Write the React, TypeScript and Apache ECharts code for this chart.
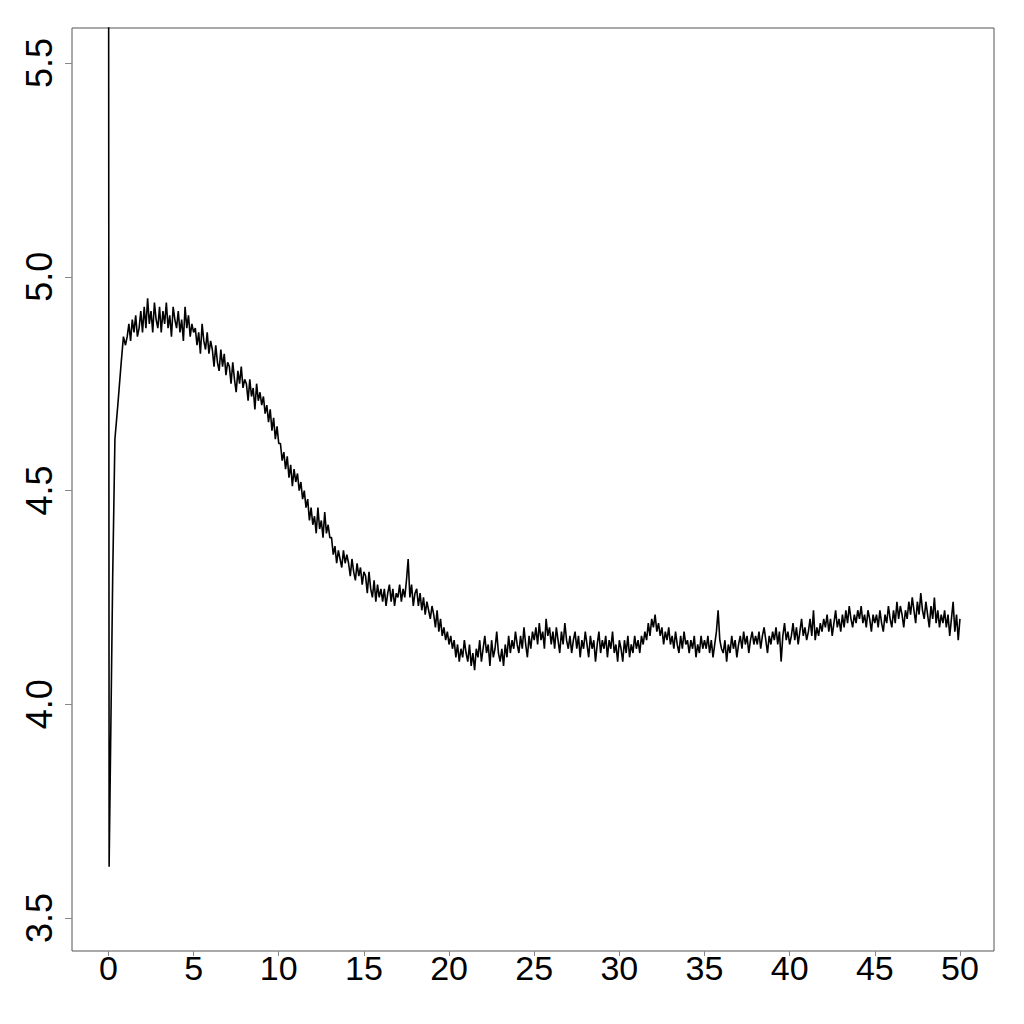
import React, { useEffect, useRef } from "react";
import * as echarts from "echarts";

// Early transient (x, y)
const startX = [0, 0.04, 0.25, 0.38, 0.55, 0.75, 0.88, 1.0];
const startY = [6.5, 3.62, 4.3, 4.62, 4.7, 4.8, 4.86, 4.84];

// Sampled values every 0.1 from x = 1.1 to 50.0
const tStart = 1.1;
const tStep = 0.1;
const seg01_05 = [
  4.86, 4.89, 4.85, 4.9, 4.87, 4.91, 4.86, 4.88, 4.92, 4.87,
  4.93, 4.88, 4.95, 4.89, 4.92, 4.87, 4.94, 4.9, 4.88, 4.93,
  4.87, 4.92, 4.89, 4.94, 4.88, 4.91, 4.86, 4.93, 4.9, 4.88,
  4.92, 4.87, 4.9, 4.85, 4.93, 4.88, 4.91, 4.86, 4.89, 4.87,
];
const seg05_10 = [
  4.88, 4.84, 4.87, 4.82, 4.89, 4.85, 4.83, 4.87, 4.82, 4.85,
  4.83, 4.79, 4.84, 4.8, 4.78, 4.83, 4.79, 4.82, 4.77, 4.8,
  4.79, 4.75, 4.8, 4.76, 4.73, 4.78, 4.75, 4.79, 4.74, 4.76,
  4.75, 4.71, 4.76, 4.72, 4.74, 4.69, 4.75, 4.71, 4.73, 4.7,
  4.72, 4.68, 4.7, 4.66, 4.69, 4.64, 4.67, 4.62, 4.65, 4.61,
];
const seg10_15 = [
  4.61, 4.57, 4.59, 4.55, 4.58, 4.53, 4.56, 4.51, 4.55, 4.52,
  4.54, 4.5, 4.52, 4.48, 4.5, 4.46, 4.48, 4.43, 4.46, 4.42,
  4.44, 4.4, 4.46, 4.41, 4.43, 4.39, 4.45, 4.4, 4.42, 4.39,
  4.39, 4.35, 4.37, 4.33, 4.36, 4.34, 4.32, 4.36, 4.33, 4.35,
  4.33, 4.3, 4.34, 4.31, 4.29, 4.33, 4.3, 4.32, 4.28, 4.31,
];
const seg15_20 = [
  4.3, 4.26, 4.31, 4.27, 4.25, 4.29, 4.24, 4.28, 4.25, 4.27,
  4.24, 4.27, 4.23, 4.26, 4.28, 4.24, 4.27, 4.23, 4.26, 4.25,
  4.28, 4.24, 4.27, 4.25, 4.29, 4.34, 4.25, 4.28, 4.23, 4.26,
  4.27, 4.23, 4.26, 4.22, 4.25, 4.21, 4.24, 4.22, 4.2, 4.23,
  4.21, 4.18, 4.22, 4.17, 4.2, 4.16, 4.18, 4.15, 4.17, 4.14,
];
const seg20_25 = [
  4.16, 4.13, 4.15, 4.11, 4.14, 4.1, 4.13, 4.11, 4.15, 4.12,
  4.1, 4.14, 4.09, 4.12, 4.08, 4.13, 4.11, 4.15, 4.1, 4.13,
  4.16, 4.12, 4.14, 4.09, 4.15, 4.11, 4.13, 4.17, 4.12, 4.1,
  4.13, 4.09, 4.14, 4.11, 4.16, 4.12, 4.15, 4.13, 4.17, 4.14,
  4.12, 4.16, 4.13, 4.18, 4.14, 4.11, 4.16, 4.13, 4.17, 4.15,
];
const seg25_30 = [
  4.18, 4.14, 4.19, 4.15, 4.17, 4.13, 4.2, 4.16, 4.18, 4.14,
  4.17, 4.13, 4.18, 4.15, 4.12, 4.17, 4.14, 4.19, 4.15, 4.13,
  4.16, 4.12, 4.15, 4.17, 4.13, 4.16, 4.11, 4.15, 4.13, 4.17,
  4.14, 4.11, 4.16, 4.13, 4.15, 4.1, 4.14, 4.17, 4.12, 4.15,
  4.13, 4.16, 4.11, 4.15, 4.13, 4.17, 4.12, 4.14, 4.1, 4.15,
];
const seg30_35 = [
  4.13, 4.1, 4.15, 4.12, 4.16, 4.11, 4.14, 4.12, 4.16, 4.13,
  4.15, 4.12, 4.16, 4.14, 4.17, 4.15, 4.19, 4.16, 4.2, 4.18,
  4.21, 4.17, 4.19, 4.16, 4.18, 4.14, 4.17, 4.15, 4.18, 4.14,
  4.16, 4.13, 4.17, 4.14, 4.12, 4.16, 4.13, 4.17, 4.14, 4.15,
  4.12, 4.15, 4.13, 4.16, 4.11, 4.14, 4.12, 4.16, 4.13, 4.15,
];
const seg35_40 = [
  4.13, 4.16, 4.12, 4.15, 4.11, 4.14, 4.17, 4.22, 4.15, 4.13,
  4.12, 4.15, 4.1, 4.14, 4.12, 4.16, 4.13, 4.15, 4.11, 4.14,
  4.16, 4.13, 4.17, 4.14, 4.16, 4.12, 4.15, 4.17, 4.14, 4.16,
  4.14, 4.17, 4.13, 4.16, 4.18, 4.15, 4.12, 4.16, 4.14, 4.17,
  4.15, 4.18, 4.14, 4.17, 4.1, 4.16, 4.19, 4.15, 4.17, 4.14,
];
const seg40_45 = [
  4.16, 4.19, 4.15, 4.18, 4.14, 4.17, 4.2, 4.16, 4.18, 4.15,
  4.17, 4.2, 4.16, 4.22, 4.15, 4.18, 4.16, 4.19, 4.17, 4.2,
  4.18, 4.21, 4.17, 4.2, 4.16, 4.19, 4.22, 4.18, 4.2, 4.17,
  4.21, 4.18, 4.22, 4.19, 4.23, 4.2, 4.18, 4.21, 4.19, 4.22,
  4.2, 4.23, 4.19, 4.21, 4.18, 4.22, 4.2, 4.17, 4.21, 4.19,
];
const seg45_50 = [
  4.21, 4.18, 4.22, 4.19, 4.17, 4.21, 4.19, 4.23, 4.2, 4.18,
  4.22, 4.19, 4.24, 4.2, 4.23, 4.21, 4.18, 4.22, 4.2, 4.24,
  4.21, 4.25, 4.22, 4.19, 4.24, 4.21, 4.26, 4.22, 4.2, 4.24,
  4.21, 4.18, 4.23, 4.2, 4.25, 4.19, 4.22, 4.18, 4.21, 4.19,
  4.22, 4.18, 4.21, 4.16, 4.2, 4.24, 4.17, 4.21, 4.15, 4.2,
];

const xTicks = [0, 5, 10, 15, 20, 25, 30, 35, 40, 45, 50];
const yTicks = [3.5, 4.0, 4.5, 5.0, 5.5];

export default function App() {
  const ref = useRef<HTMLDivElement>(null);
  useEffect(() => {
    document.body.style.margin = "0";
    if (!ref.current) return;
    const chart = echarts.init(ref.current, null, { renderer: "svg" });
    const noisy = [
      ...seg01_05, ...seg05_10, ...seg10_15, ...seg15_20, ...seg20_25,
      ...seg25_30, ...seg30_35, ...seg35_40, ...seg40_45, ...seg45_50,
    ];
    const data: number[][] = startX.map((x, i) => [x, startY[i]]);
    noisy.forEach((v, i) => {
      data.push([Math.round((tStart + i * tStep) * 100) / 100, v]);
    });
    const font = "Liberation Sans, Arial, Helvetica, sans-serif";
    chart.setOption({
      animation: false,
      backgroundColor: "#ffffff",
      grid: {
        left: 72,
        right: 30,
        top: 28,
        bottom: 73,
        show: true,
        borderColor: "#555555",
        borderWidth: 1,
        backgroundColor: "transparent",
      },
      xAxis: {
        type: "value",
        min: -2.14,
        max: 52,
        splitLine: { show: false },
        axisLine: { show: false, onZero: false },
        axisTick: {
          show: true,
          customValues: xTicks,
          length: 5,
          lineStyle: { color: "#888888", width: 1 },
        },
        axisLabel: {
          customValues: xTicks,
          color: "#000000",
          fontSize: 34,
          fontFamily: font,
          margin: 0,
          formatter: (v: number) => String(v),
        },
      },
      yAxis: {
        type: "value",
        min: 3.423,
        max: 5.582,
        splitLine: { show: false },
        axisLine: { show: false, onZero: false },
        axisTick: {
          show: true,
          customValues: yTicks,
          length: 7,
          lineStyle: { color: "#888888", width: 1 },
        },
        axisLabel: {
          customValues: yTicks,
          rotate: 90,
          color: "#000000",
          fontSize: 36,
          fontFamily: font,
          margin: 15,
          formatter: (v: number) => v.toFixed(1),
        },
      },
      series: [
        {
          type: "line",
          data,
          showSymbol: false,
          symbol: "none",
          clip: true,
          lineStyle: { color: "#000000", width: 1.6 },
        },
      ],
    });
    return () => chart.dispose();
  }, []);
  return <div ref={ref} style={{ width: 1024, height: 1024 }} />;
}
